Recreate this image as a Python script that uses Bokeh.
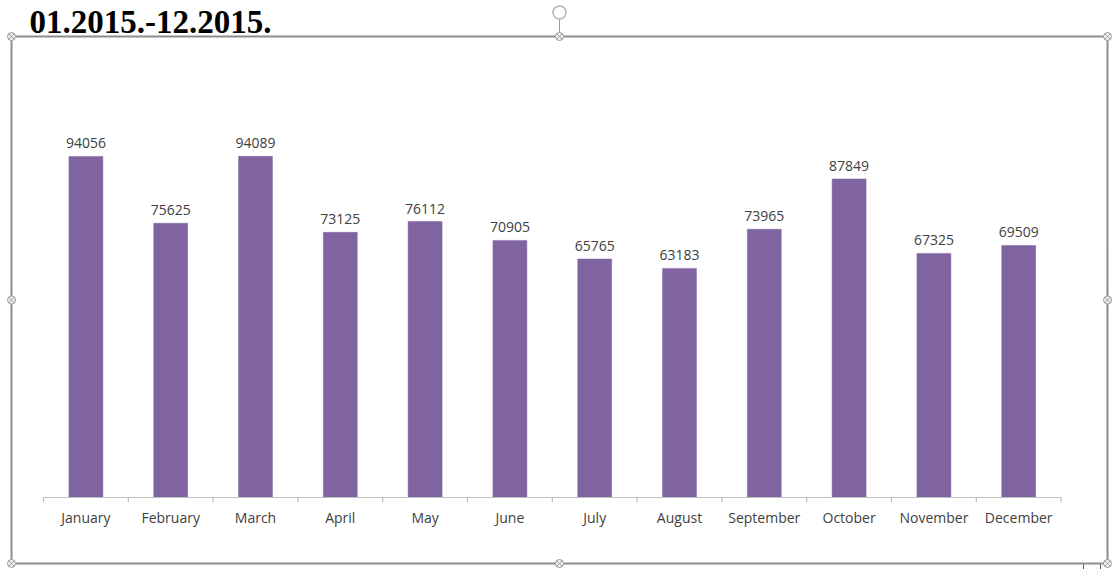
from bokeh.plotting import figure
from bokeh.models import Range1d, ColumnDataSource
from bokeh.core.properties import value
from bokeh.embed import file_html
from bokeh.resources import INLINE

# ---- data ----
months = ["January", "February", "March", "April", "May", "June", "July",
          "August", "September", "October", "November", "December"]
visits = [94056, 75625, 94089, 73125, 76112, 70905, 65765, 63183, 73965,
          87849, 67325, 69509]
title_text = "01.2015.-12.2015."

W, H = 1114, 569
# layout: category spacing (px) and value scale (px per unit)
X0_PX, DX_PX = 85.4, 84.8
Y0_PX, KY = 497.0, 0.003626

x_start = -X0_PX / DX_PX
x_end = (W - X0_PX) / DX_PX
y_end = Y0_PX / KY
y_start = -(H - Y0_PX) / KY


def px2x(px):
    return x_start + px / DX_PX


def px2y(py):
    return y_end - py / KY


p = figure(width=W, height=H, output_backend="svg", toolbar_location=None,
           x_range=Range1d(x_start, x_end), y_range=Range1d(y_start, y_end),
           x_axis_type=None, y_axis_type=None, min_border=0)
p.outline_line_color = None
p.grid.visible = False
p.background_fill_color = "white"
p.border_fill_color = "white"

idx = list(range(len(months)))
src = ColumnDataSource(dict(x=idx, v=visits, m=months,
                            lab=[str(v) for v in visits]))

# bars
p.vbar(x="x", top="v", bottom=0, width=0.40, source=src,
       fill_color="#8064A2", line_color="#8064A2", line_width=0.5)

# category axis line and boundary ticks
p.segment(x0=[-0.5], y0=[0], x1=[len(months) - 0.5], y1=[0],
          line_color="#BFBFBF", line_width=1.2)
bounds = [i - 0.5 for i in range(len(months) + 1)]
tick_len = 5 / KY
p.segment(x0=bounds, y0=[0] * len(bounds), x1=bounds,
          y1=[-tick_len] * len(bounds), line_color="#BFBFBF", line_width=1.2)

# value labels
p.text(x="x", y="v", text="lab", source=src, text_align="center",
       text_baseline="middle", y_offset=-13,
       text_font=value("Open Sans"), text_font_size="14px",
       text_color="#404040")

# category labels
p.text(x="x", y=0, text="m", source=src, text_align="center",
       text_baseline="middle", y_offset=20,
       text_font=value("Open Sans"), text_font_size="14px",
       text_color="#404040")

# document title above the chart object
p.text(x=[px2x(29)], y=[px2y(21)], text=[title_text], text_align="left",
       text_baseline="middle", text_font=value("Liberation Serif"),
       text_font_style="bold", text_font_size="33px", text_color="#000000")

# chart object frame (Word selection box)
L, R, T, B = 11, 1107, 36, 563
p.quad(left=[px2x(L)], right=[px2x(R)], top=[px2y(T)], bottom=[px2y(B)],
       fill_alpha=0, line_color="#8C8C8C", line_width=2)
MX, MY = (L + R) / 2, (T + B) / 2
# rotation handle stem
p.segment(x0=[px2x(MX)], y0=[px2y(18)], x1=[px2x(MX)], y1=[px2y(T)],
          line_color="#9A9A9A", line_width=1)
p.scatter(x=[px2x(MX)], y=[px2y(12)], size=13, marker="circle",
          fill_color="white", line_color="#B5B5B5", line_width=1.5)
hx = [L, MX, R, L, R, L, MX, R]
hy = [T, T, T, MY, MY, B, B, B]
p.scatter(x=[px2x(v) for v in hx], y=[px2y(v) for v in hy], size=8,
          marker="circle_x", fill_color="#F2F2F2", line_color="#9A9A9A",
          line_width=1)
# small marks at bottom-right edge
p.segment(x0=[px2x(1083), px2x(1100)], y0=[px2y(B + 1)] * 2,
          x1=[px2x(1083), px2x(1100)], y1=[px2y(H)] * 2,
          line_color="#555555", line_width=1)

open("out.html", "w").write(file_html(p, INLINE))
